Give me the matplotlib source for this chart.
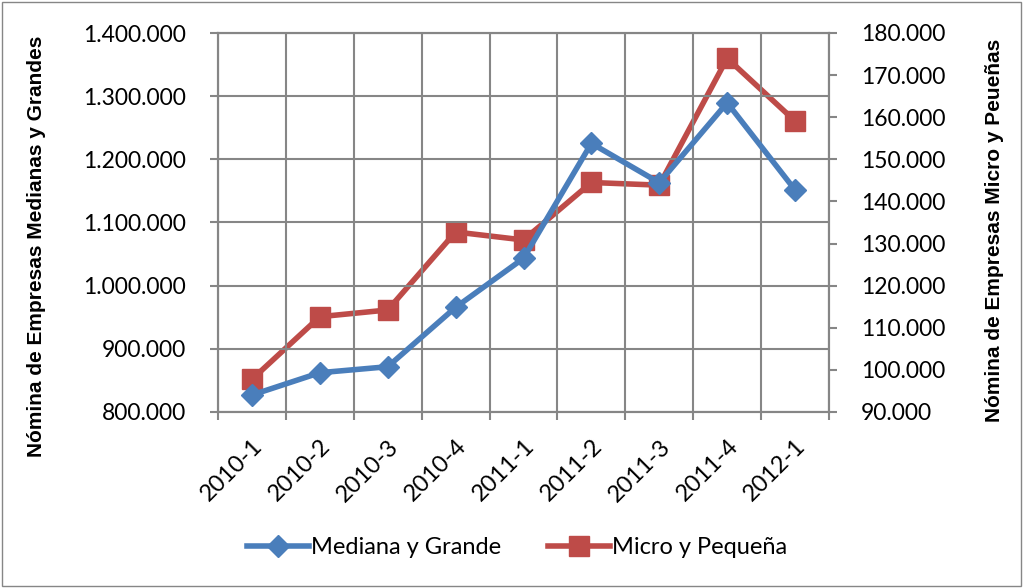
import matplotlib.pyplot as plt
from matplotlib.ticker import FuncFormatter
from matplotlib.transforms import ScaledTranslation

plt.rcParams['font.family'] = ['Lato', 'DejaVu Sans']

# Data
periodos = ['2010-1', '2010-2', '2010-3', '2010-4', '2011-1',
            '2011-2', '2011-3', '2011-4', '2012-1']
mediana_grande = [826900, 862200, 871700, 965700, 1043300,
                  1225300, 1163000, 1289600, 1151500]
micro_pequena = [97760, 112630, 114230, 132750, 130850,
                 144500, 143870, 174000, 159100]

blue = '#4A7EBB'
red = '#BE4B48'
grid_gray = '#868686'


def miles(v, pos):
    return f'{int(round(v)):,}'.replace(',', '.')


fig = plt.figure(figsize=(10.24, 5.88), dpi=100)
ax = fig.add_axes([218 / 1024, 1 - 412 / 588, 611 / 1024, 379 / 588])
ax2 = ax.twinx()

x = list(range(len(periodos)))
l1, = ax.plot(x, mediana_grande, color=blue, lw=4, marker='D',
              markersize=11, zorder=3)
l2, = ax2.plot(x, micro_pequena, color=red, lw=4, marker='s',
               markersize=14.5, zorder=3)

ax.set_xlim(-0.5, len(periodos) - 0.5)
ax.set_ylim(800000, 1400000)
ax2.set_ylim(90000, 180000)
ax.set_yticks(range(800000, 1400001, 100000))
ax2.set_yticks(range(90000, 180001, 10000))
ax.yaxis.set_major_formatter(FuncFormatter(miles))
ax2.yaxis.set_major_formatter(FuncFormatter(miles))

# vertical gridlines between categories, labels at category centres
ax.set_xticks([i - 0.5 for i in range(len(periodos) + 1)])
ax.set_xticklabels([])
ax.set_xticks(x, minor=True)
ax.set_xticklabels(periodos, minor=True, rotation=45, ha='right', va='top',
                   rotation_mode='anchor', fontsize=17)
offset = ScaledTranslation(7 / 100, 0, fig.dpi_scale_trans)
for lab in ax.get_xticklabels(minor=True):
    lab.set_transform(lab.get_transform() + offset)
ax.tick_params(axis='x', which='minor', length=0, pad=17)
ax.tick_params(axis='x', which='major', length=6, color=grid_gray, width=1.5)
ax.tick_params(axis='y', length=6, color=grid_gray, width=1.5,
               labelsize=16.5, pad=17)
ax2.tick_params(axis='y', length=6, color=grid_gray, width=1.5,
                labelsize=16.5, pad=17)

ax.grid(True, which='major', color=grid_gray, lw=1.5)
ax.set_axisbelow(True)
for a in (ax, ax2):
    for s in a.spines.values():
        s.set_color(grid_gray)
        s.set_linewidth(1.5)

ax.set_zorder(ax2.get_zorder() + 1)
ax.patch.set_visible(False)

ax.set_ylabel('Nómina de Empresas Medianas y Grandes', fontsize=15,
              fontweight='bold', family='Liberation Sans')
ax.yaxis.set_label_coords(-0.2815, 0.438)
ax2.set_ylabel('Nómina de Empresas Micro y Peueñas', fontsize=15,
               fontweight='bold', family='Liberation Sans', rotation=90)
ax2.yaxis.set_label_coords(1.2553, 0.48)

fig.legend([l1, l2], ['Mediana y Grande', 'Micro y Pequeña'], loc='center',
           bbox_to_anchor=(0.505, 1 - 548 / 588), ncol=2, frameon=False,
           fontsize=17, handlelength=2.6, columnspacing=2, handletextpad=0.1)

# chart border
fig.patches.append(plt.Rectangle((0.002, 0.003), 0.995, 0.994,
                                 transform=fig.transFigure, fill=False,
                                 edgecolor='#868686', lw=1))

fig.savefig('out.png', dpi=100)
